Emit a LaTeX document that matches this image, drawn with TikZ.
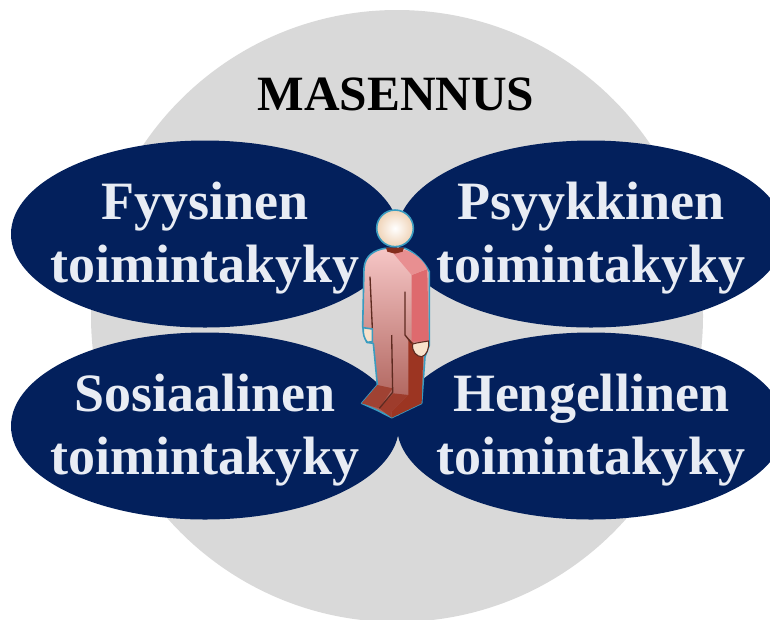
\documentclass[tikz,border=0pt]{standalone}
\usepackage{fontspec}
\setmainfont{Liberation Serif}
\usepackage{xcolor}
\definecolor{navyfill}{HTML}{03205C}
\definecolor{discgray}{HTML}{D9D9D9}
\definecolor{labeltext}{HTML}{E8ECF4}
\definecolor{bodytop}{HTML}{F6C6C6}
\definecolor{bodybottom}{HTML}{A85A52}
\definecolor{armred}{HTML}{DE6A6E}
\definecolor{bodydark}{HTML}{9C3522}
\definecolor{slitdark}{HTML}{5E2A20}
\definecolor{edgeblue}{HTML}{3A9CC0}
\definecolor{skintone}{HTML}{F8E2CC}
\usetikzlibrary{shapes.geometric}
\tikzset{
  areanode/.style={ellipse,fill=navyfill,minimum width=388*0.75pt,minimum height=187*0.75pt,inner sep=0pt},
  arealabel/.style={align=center,inner sep=0pt,text=labeltext,font=\fontsize{40.5}{47}\selectfont\bfseries},
  personedge/.style={draw=edgeblue,line width=1.2pt,line join=round},
  slitline/.style={draw=slitdark,line width=1pt,line join=round}
}
\begin{document}
\begin{tikzpicture}[x=0.75pt,y=-0.75pt]
  \useasboundingbox (0,0) rectangle (770,619);
  % Background disc
  \node[circle,fill=discgray,minimum size=612*0.75pt,inner sep=0pt] (disc) at (397,316) {};
  \node[font=\fontsize{37}{40}\selectfont\bfseries,text=black] (title) at (396,94) {MASENNUS};
  % Four areas
  \foreach \name/\xpos/\ypos/\first in {fyys/205/234/Fyysinen, psyk/591/234/Psyykkinen, sosi/205/426/Sosiaalinen, heng/591/426/Hengellinen} {
    \node[areanode] (\name) at (\xpos,\ypos) {};
    \node[arealabel] (\name label) at (\xpos,\ypos+4) {\first\\toimintakyky};
  }
  % Person
  \begin{scope}[shift={(340,195)},scale=1/3]
    \draw[personedge,top color=bodytop,bottom color=bodybottom] (135,160) .. controls (105,165) and (75,180) .. (72,220) -- (68,395) -- (80,442) -- (100,445) -- (112,570) -- (65,625) -- (110,645) -- (155,668) -- (245,625) -- (255,485) -- (268,450) -- (268,230) .. controls (250,195) and (220,170) .. (195,160) -- cycle;
    % Leg side and feet
    \fill[bodydark] (205,430) -- (250,470) -- (245,625) -- (155,668) -- (155,650) -- (205,600) -- cycle;
    \fill[bodydark!80!bodybottom] (118,640) -- (160,595) -- (205,600) -- (155,650) -- (155,668) -- cycle;
    \fill[bodydark!65!bodybottom] (65,625) -- (112,570) -- (158,580) -- (118,640) -- cycle;
    \fill[armred] (215,240) -- (262,222) -- (266,440) -- (215,440) -- cycle;
    \fill[armred!60!bodytop] (160,175) -- (195,165) .. controls (225,175) and (250,195) .. (262,222) -- (215,240) -- cycle;
    \draw[slitline] (90,245) -- (97,400);
    \draw[slitline] (195,290) -- (195,420) -- (215,445);
    \draw[slitline] (155,420) -- (158,592) -- (118,640);
    \fill[bodydark!85!black] (138,158) -- (192,158) -- (188,170) -- (165,176) -- (142,170) -- cycle;
    \draw[personedge,fill=skintone] (70,398) -- (97,402) -- (97,440) -- (82,442) .. controls (72,430) and (68,415) .. (70,398) -- cycle;
    \draw[draw=slitdark,line width=0.8pt,fill=skintone] (218,447) .. controls (235,442) and (255,440) .. (266,438) .. controls (268,460) and (260,482) .. (245,485) .. controls (230,485) and (215,470) .. (218,447) -- cycle;
    \shade[personedge,inner color=white,outer color=skintone!85!brown] (165,100) circle (55);
  \end{scope}
\end{tikzpicture}
\end{document}
